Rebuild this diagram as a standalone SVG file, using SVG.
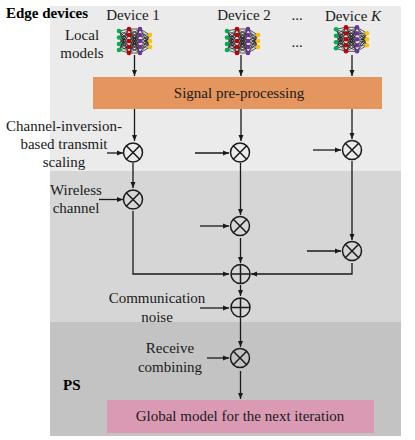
<svg xmlns="http://www.w3.org/2000/svg" width="415" height="440" viewBox="0 0 415 440">
<style>
text{font-family:"Liberation Serif","Times New Roman",serif;font-size:15px;fill:#1a1a1a}
.c{text-anchor:middle}
.b{font-weight:bold;fill:#000}
.w{fill:none;stroke:#1a1a1a;stroke-width:1.3}
.op{fill:none;stroke:#1a1a1a;stroke-width:1.5}
.n{stroke:#111;stroke-width:.7}
</style>
<defs>
<marker id="a" markerUnits="userSpaceOnUse" markerWidth="7" markerHeight="6" refX="6" refY="3" orient="auto"><path d="M0 0.500L6 3L0 5.500z" fill="#1a1a1a"/></marker>
<g id="x"><circle r="9.500" class="op"/><path d="M-6.700-6.700L6.700 6.700M-6.700 6.700L6.700-6.700" class="op"/></g>
<g id="p"><circle r="9.500" class="op"/><path d="M-9.500 0H9.500M0-9.500V9.500" class="op"/></g>
<g id="net">
<path class="n" d="M119 31L129 29M119 31L129 35M119 31L129 41M119 31L129 47M119 31L129 53M119 37.500L129 29M119 37.500L129 35M119 37.500L129 41M119 37.500L129 47M119 37.500L129 53M119 44L129 29M119 44L129 35M119 44L129 41M119 44L129 47M119 44L129 53M119 50L129 29M119 50L129 35M119 50L129 41M119 50L129 47M119 50L129 53M129 29L140 29M129 29L140 35M129 29L140 41M129 29L140 47M129 29L140 53M129 35L140 29M129 35L140 35M129 35L140 41M129 35L140 47M129 35L140 53M129 41L140 29M129 41L140 35M129 41L140 41M129 41L140 47M129 41L140 53M129 47L140 29M129 47L140 35M129 47L140 41M129 47L140 47M129 47L140 53M129 53L140 29M129 53L140 35M129 53L140 41M129 53L140 47M129 53L140 53M140 29L150 35M140 29L150 41M140 29L150 47M140 35L150 35M140 35L150 41M140 35L150 47M140 41L150 35M140 41L150 41M140 41L150 47M140 47L150 35M140 47L150 41M140 47L150 47M140 53L150 35M140 53L150 41M140 53L150 47"/>
<g fill="#00b050"><circle cx="119" cy="31" r="2.300"/><circle cx="119" cy="37.500" r="2.300"/><circle cx="119" cy="44" r="2.300"/><circle cx="119" cy="50" r="2.300"/></g>
<g fill="#c00000"><circle cx="129" cy="29" r="2.300"/><circle cx="129" cy="35" r="2.300"/><circle cx="129" cy="41" r="2.300"/><circle cx="129" cy="47" r="2.300"/><circle cx="129" cy="53" r="2.300"/></g>
<g fill="#7030a0"><circle cx="140" cy="29" r="2.300"/><circle cx="140" cy="35" r="2.300"/><circle cx="140" cy="41" r="2.300"/><circle cx="140" cy="47" r="2.300"/><circle cx="140" cy="53" r="2.300"/></g>
<g fill="#ffc000"><circle cx="150" cy="35" r="2.300"/><circle cx="150" cy="41" r="2.300"/><circle cx="150" cy="47" r="2.300"/></g>
</g>
</defs>
<g id="regions">
<rect x="50" y="6" width="351" height="165" fill="#ebebeb"/>
<rect x="50" y="171" width="351" height="151" fill="#d6d6d6"/>
<rect x="50" y="322" width="351" height="114" fill="#c3c3c3"/>
</g>
<g id="connectors" class="w">
<path class="w" marker-end="url(#a)" d="M134.500 55V76"/>
<path class="w" marker-end="url(#a)" d="M241 55V76"/>
<path class="w" marker-end="url(#a)" d="M352 55V76"/>
<path class="w" marker-end="url(#a)" d="M134.500 109V141"/>
<path class="w" marker-end="url(#a)" d="M241 109V141"/>
<path class="w" marker-end="url(#a)" d="M352 109V139"/>
<path class="w" marker-end="url(#a)" d="M133 163V188"/>
<path class="w" marker-end="url(#a)" d="M240.500 163V215"/>
<path class="w" marker-end="url(#a)" d="M352 161V240"/>
<path class="w" marker-end="url(#a)" d="M107 153H123"/>
<path class="w" marker-end="url(#a)" d="M195 153H229"/>
<path class="w" marker-end="url(#a)" d="M313 150H341"/>
<path class="w" marker-end="url(#a)" d="M99 199.500H123"/>
<path class="w" marker-end="url(#a)" d="M200 226H229"/>
<path class="w" marker-end="url(#a)" d="M307 251H341"/>
<path class="w" marker-end="url(#a)" d="M133 211V274H229"/>
<path class="w" marker-end="url(#a)" d="M352 263V274H251"/>
<path class="w" marker-end="url(#a)" d="M240.500 238V263"/>
<path class="w" marker-end="url(#a)" d="M240.500 285V296"/>
<path class="w" marker-end="url(#a)" d="M200 308H229"/>
<path class="w" marker-end="url(#a)" d="M240.500 318V347"/>
<path class="w" marker-end="url(#a)" d="M207 358H229"/>
<path class="w" marker-end="url(#a)" d="M240.500 371V399"/>
</g>
<g id="pre"><rect x="93" y="77" width="289" height="32" fill="#e5965f"/><text class="c" x="239" y="98">Signal pre-processing</text></g>
<g id="global"><rect x="107" y="400" width="267" height="33" fill="#da9ab3"/><text class="c" x="240" y="421">Global model for the next iteration</text></g>
<g id="device1"><use href="#net"/><text class="c" x="133" y="20">Device 1</text></g>
<g id="device2"><use href="#net" x="108"/><text class="c" x="244" y="20">Device 2</text></g>
<g id="deviceK"><use href="#net" x="217" y="-1.700"/><text class="c" x="353" y="21">Device <tspan font-style="italic">K</tspan></text></g>
<g id="ops">
<use href="#x" x="133" y="152.500"/><use href="#x" x="240" y="152.500"/><use href="#x" x="352" y="150"/>
<use href="#x" x="133" y="199.500"/><use href="#x" x="240" y="226"/><use href="#x" x="352" y="251"/>
<use href="#p" x="240.500" y="274"/><use href="#p" x="240.500" y="307.500"/><use href="#x" x="240" y="358"/>
</g>
<g id="labels">
<text class="b" x="6" y="18">Edge devices</text>
<text class="c" x="82" y="40">Local</text><text class="c" x="82" y="58">models</text>
<text x="297" y="20" class="c">...</text><text x="297" y="47" class="c">...</text>
<text class="c" x="64" y="131">Channel-inversion-</text><text class="c" x="64" y="149">based transmit</text><text class="c" x="64" y="167">scaling</text>
<text class="c" x="76" y="195">Wireless</text><text class="c" x="76" y="213">channel</text>
<text class="c" x="157" y="303">Communication</text><text class="c" x="157" y="322">noise</text>
<text class="c" x="170" y="353">Receive</text><text class="c" x="170" y="372">combining</text>
<text class="b" x="63" y="390">PS</text>
</g>
</svg>
